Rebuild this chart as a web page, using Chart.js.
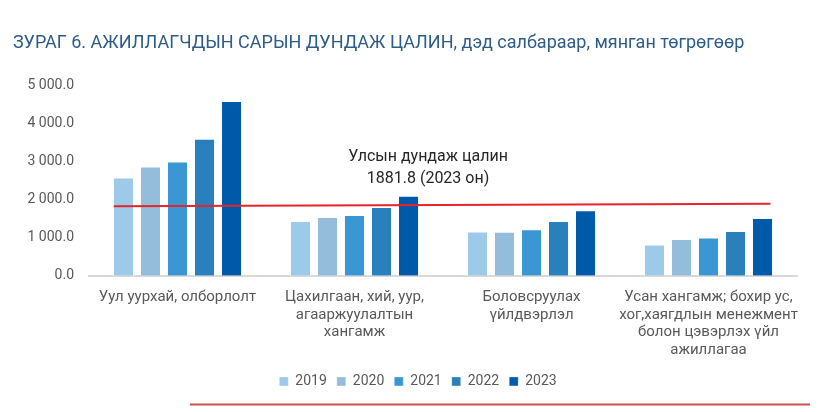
<!DOCTYPE html>
<html>
<head>
<meta charset="utf-8">
<script src="https://cdn.jsdelivr.net/npm/chart.js@4.4.1/dist/chart.umd.min.js"></script>
<style>
  html, body { margin: 0; padding: 0; background: #ffffff; }
  #wrap { width: 825px; height: 412px; position: relative; }
</style>
</head>
<body>
<div id="wrap"><canvas id="c" width="825" height="412"></canvas></div>
<script>
// ---- Data ----
const categories = [
  "Уул уурхай, олборлолт",
  ["Цахилгаан, хий, уур,", "агааржуулалтын", "хангамж"],
  ["Боловсруулах", "үйлдвэрлэл"],
  ["Усан хангамж; бохир ус,", "хог,хаягдлын менежмент", "болон цэвэрлэх үйл", "ажиллагаа"]
];
const years = ["2019", "2020", "2021", "2022", "2023"];
const values2019 = [2578, 1434, 1162, 819];
const values2020 = [2861, 1540, 1152, 959];
const values2021 = [2993, 1593, 1215, 1004];
const values2022 = [3592, 1804, 1434, 1170];
const values2023 = [4579, 2095, 1717, 1513];
const avgLineX = [-0.36, 3.35];      // in category units
const avgLineY = [1822, 1886];
const avgLabel = ["Улсын дундаж цалин", "1881.8 (2023 он)"];
const titleText = "ЗУРАГ 6. АЖИЛЛАГЧДЫН САРЫН ДУНДАЖ ЦАЛИН, дэд салбараар, мянган төгрөгөөр";
const yTicks = [0, 1000, 2000, 3000, 4000, 5000];

const seriesValues = [values2019, values2020, values2021, values2022, values2023];
const colors = ["#9ecae9", "#93bddb", "#3a97d4", "#2a80bc", "#005aaa"];

const barSets = years.map((y, i) => ({
  type: 'bar',
  label: y,
  data: seriesValues[i],
  backgroundColor: colors[i],
  borderColor: 'rgba(255,255,255,0.35)',
  borderWidth: 1,
  categoryPercentage: 0.763,
  barPercentage: 0.78
}));

function fmt(v) {
  const s = Number(v).toFixed(1);
  const parts = s.split('.');
  parts[0] = parts[0].replace(/\B(?=(\d{3})+(?!\d))/g, ' ');
  return parts.join('.');
}

const extras = {
  id: 'extras',
  afterLayout(chart) {
    if (chart.legend) {
      chart.legend.left += 13;
      chart.legend.right += 13;
    }
  },
  afterDatasetsDraw(chart) {
    const ctx = chart.ctx;
    const xs = chart.scales.x, ys = chart.scales.y;
    ctx.save();
    // national average line, placed through the chart scales
    ctx.strokeStyle = '#e8232b';
    ctx.lineWidth = 2;
    ctx.beginPath();
    avgLineX.forEach((xv, i) => {
      const px = xs.getPixelForValue(xv);
      const py = ys.getPixelForValue(avgLineY[i]);
      if (i === 0) ctx.moveTo(px, py); else ctx.lineTo(px, py);
    });
    ctx.stroke();
    ctx.restore();
  },
  afterDraw(chart) {
    const ctx = chart.ctx;
    ctx.save();
    ctx.fillStyle = '#262626';
    ctx.font = '16px Roboto';
    ctx.textAlign = 'center';
    ctx.textBaseline = 'middle';
    ctx.fillText(avgLabel[0], 428, 157);
    ctx.fillText(avgLabel[1], 428, 179);
    // bottom decorative rule
    ctx.strokeStyle = '#c9524e';
    ctx.lineWidth = 2;
    ctx.beginPath();
    ctx.moveTo(190, 404.5);
    ctx.lineTo(810, 404.5);
    ctx.stroke();
    ctx.restore();
  }
};

new Chart(document.getElementById('c'), {
  type: 'bar',
  data: { labels: categories, datasets: barSets },
  options: {
    responsive: false,
    animation: false,
    layout: { padding: { left: 13, right: 28, top: 0, bottom: 13.6 } },
    plugins: {
      title: {
        display: true,
        text: titleText,
        align: 'start',
        color: '#2e5c8a',
        font: { family: 'Roboto', size: 18, weight: 'normal' },
        padding: { top: 32.2, bottom: 31.2 }
      },
      legend: {
        position: 'bottom',
        labels: {
          boxWidth: 9,
          boxHeight: 9,
          padding: 10,
          color: '#595959',
          font: { family: 'Roboto', size: 14 }
        }
      },
      tooltip: { enabled: false }
    },
    scales: {
      x: {
        offset: true,
        grid: { display: false },
        border: { display: true, color: '#d9d9d9', width: 2 },
        ticks: {
          color: '#595959',
          font: { family: 'Roboto', size: 15, lineHeight: 1.18 },
          padding: 4.5,
          maxRotation: 0,
          autoSkip: false
        },
        afterFit(scale) { scale.height = 88.7; }
      },
      y: {
        min: 0,
        max: 5000,
        afterBuildTicks(scale) { scale.ticks = yTicks.map(v => ({ value: v })); },
        grid: { display: false },
        border: { display: false },
        ticks: {
          color: '#595959',
          font: { family: 'Roboto', size: 14 },
          padding: 7,
          callback: (v) => fmt(v)
        },
        afterFit(scale) { scale.width = 76; }
      }
    }
  },
  plugins: [extras]
});
</script>
</body>
</html>
